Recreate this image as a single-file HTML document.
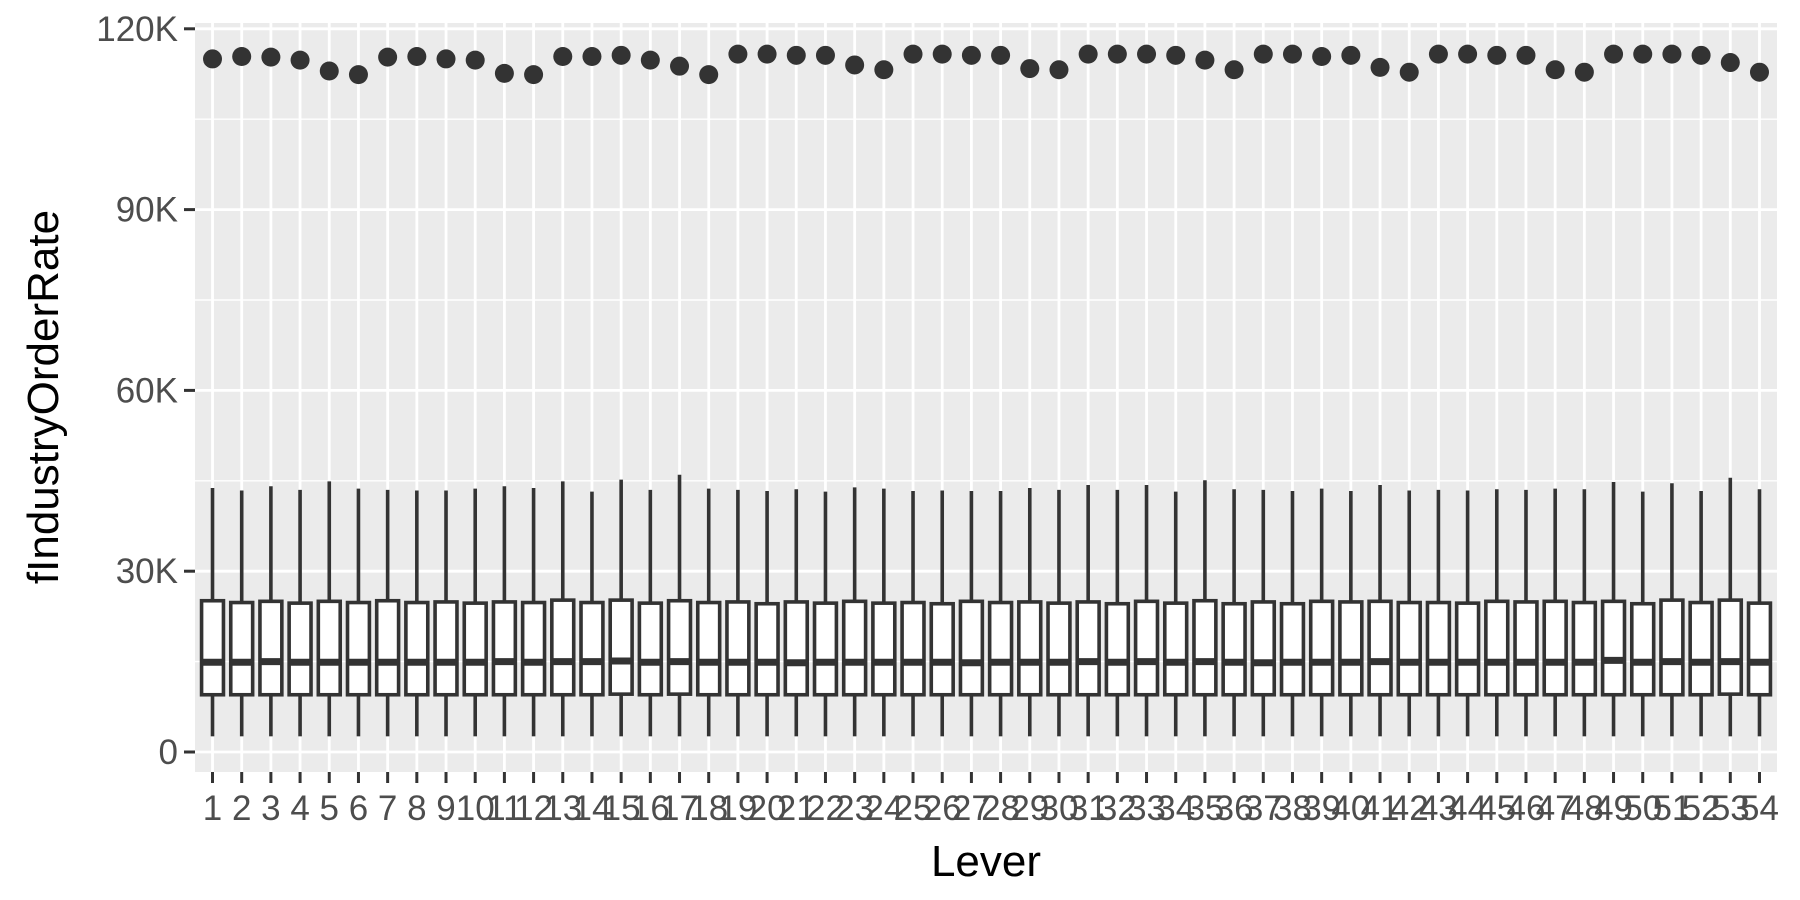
<!DOCTYPE html>
<html><head><meta charset="utf-8"><style>
html,body{margin:0;padding:0;background:#fff;}
svg{display:block;font-family:"Liberation Sans",Arial,sans-serif;}
</style></head><body>
<svg id="chart" width="1800" height="900" viewBox="0 0 1800 900">
<rect x="195" y="23" width="1582" height="749" fill="#ebebeb"/>
<g id="grid"></g><g id="marks"></g><g id="axes"></g>
<text x="986" y="876" text-anchor="middle" font-size="44" fill="#000">Lever</text>
<text transform="translate(58,397) rotate(-90)" text-anchor="middle" font-size="44" fill="#000">fIndustryOrderRate</text>
</svg>
<script>
const categories = Array.from({length:54},(_,i)=>String(i+1));
const upperWhisker = [43.8,43.4,44.1,43.5,44.9,43.7,43.5,43.4,43.4,43.7,44.1,43.8,44.9,43.2,45.2,43.5,46.0,43.7,43.5,43.3,43.6,43.2,43.9,43.7,43.3,43.4,43.3,43.3,43.8,43.5,44.3,43.5,44.3,43.2,45.1,43.6,43.5,43.3,43.7,43.3,44.3,43.4,43.5,43.4,43.6,43.5,43.7,43.6,44.8,43.2,44.6,43.3,45.5,43.6];
const q3 = [25.1,24.8,25.0,24.7,25.0,24.8,25.1,24.8,24.9,24.7,24.9,24.8,25.2,24.8,25.2,24.7,25.1,24.8,24.9,24.6,24.9,24.7,25.0,24.7,24.8,24.6,25.0,24.8,24.9,24.7,24.9,24.6,25.0,24.7,25.1,24.6,24.9,24.6,25.0,24.9,25.0,24.8,24.8,24.7,25.0,24.9,25.0,24.8,25.0,24.6,25.2,24.8,25.2,24.7];
const median = [14.9,14.9,15.0,14.9,14.9,14.9,14.9,14.9,14.9,14.9,15.0,14.9,15.0,15.0,15.1,14.9,15.0,14.9,14.9,14.9,14.8,14.9,14.9,14.9,14.9,14.9,14.8,14.9,14.9,14.9,15.0,14.9,15.0,14.9,15.0,14.9,14.8,14.9,14.9,14.9,15.0,14.9,14.9,14.9,14.9,14.9,14.9,14.9,15.2,14.9,15.0,14.9,15.0,14.9];
const q1 = [9.5,9.5,9.5,9.5,9.5,9.5,9.5,9.5,9.5,9.5,9.5,9.5,9.5,9.5,9.6,9.5,9.6,9.5,9.5,9.5,9.5,9.5,9.5,9.5,9.5,9.5,9.5,9.5,9.5,9.5,9.5,9.5,9.5,9.5,9.5,9.5,9.5,9.5,9.5,9.5,9.5,9.5,9.5,9.5,9.5,9.5,9.5,9.5,9.5,9.5,9.5,9.5,9.6,9.5];
const lowerWhisker = [2.6,2.6,2.6,2.6,2.6,2.6,2.6,2.6,2.6,2.6,2.6,2.6,2.6,2.6,2.6,2.6,2.6,2.6,2.6,2.6,2.6,2.6,2.6,2.6,2.6,2.6,2.6,2.6,2.6,2.6,2.6,2.6,2.6,2.6,2.6,2.6,2.6,2.6,2.6,2.6,2.6,2.6,2.6,2.6,2.6,2.6,2.6,2.6,2.6,2.6,2.6,2.6,2.6,2.6];
const outlier = [115.0,115.4,115.3,114.8,113.0,112.4,115.3,115.4,115.0,114.8,112.6,112.4,115.4,115.4,115.6,114.8,113.8,112.4,115.8,115.8,115.6,115.6,114.0,113.2,115.8,115.8,115.6,115.6,113.4,113.2,115.8,115.8,115.8,115.6,114.8,113.2,115.8,115.8,115.4,115.6,113.6,112.8,115.8,115.8,115.6,115.6,113.2,112.8,115.8,115.8,115.8,115.6,114.4,112.8];
const yTicks = [0,30,60,90,120];
const yTickLabels = ["0","30K","60K","90K","120K"];
const yMinor = [15,45,75,105];

const NS="http://www.w3.org/2000/svg";
const pL=195,pR=1777,pT=23,pB=772;
const band=(pR-pL)/(categories.length-1+1.2);
function xs(i){return pL+band*(0.6+i);}
function ys(v){return 752-(v/30)*180.8;}
function mk(tag,attrs,parent){const e=document.createElementNS(NS,tag);for(const k in attrs)e.setAttribute(k,attrs[k]);parent.appendChild(e);return e;}
const gridG=document.getElementById('grid'),marksG=document.getElementById('marks'),axesG=document.getElementById('axes');

yMinor.forEach(v=>{const l=mk('line',{x1:pL,x2:pR,y1:ys(v),y2:ys(v),stroke:'#fff','stroke-width':1.4},gridG);

});
yTicks.forEach((v,i)=>{const l=mk('line',{x1:pL,x2:pR,y1:ys(v),y2:ys(v),stroke:'#fff','stroke-width':2.8},gridG);


const t=mk('line',{x1:184,x2:195,y1:ys(v),y2:ys(v),stroke:'#333','stroke-width':3},axesG);


const tx=mk('text',{x:178,y:ys(v)+12,'text-anchor':'end','font-size':35,fill:'#4d4d4d'},axesG);
tx.textContent=yTickLabels[i];

});

const bw=band*0.75;
categories.forEach((c,i)=>{const x=xs(i);
const g=mk('line',{x1:x,x2:x,y1:pT,y2:pB,stroke:'#fff','stroke-width':2.8},gridG);


const grp=mk('g',{},marksG);


mk('line',{x1:x,x2:x,y1:ys(upperWhisker[i]),y2:ys(q3[i]),stroke:'#333','stroke-width':3.6},grp);
mk('line',{x1:x,x2:x,y1:ys(q1[i]),y2:ys(lowerWhisker[i]),stroke:'#333','stroke-width':3.6},grp);
mk('rect',{x:x-bw/2,y:ys(q3[i]),width:bw,height:ys(q1[i])-ys(q3[i]),fill:'#fff',stroke:'#333','stroke-width':3.6},grp);
mk('line',{x1:x-bw/2,x2:x+bw/2,y1:ys(median[i]),y2:ys(median[i]),stroke:'#333','stroke-width':7},grp);
const p=mk('circle',{cx:x,cy:ys(outlier[i]),r:9.5,fill:'#333'},marksG);


const t=mk('line',{x1:x,x2:x,y1:pB,y2:pB+11,stroke:'#333','stroke-width':3},axesG);


const tx=mk('text',{x:x,y:820,'text-anchor':'middle','font-size':35,fill:'#4d4d4d'},axesG);
tx.textContent=c;

});
</script>
</body></html>
